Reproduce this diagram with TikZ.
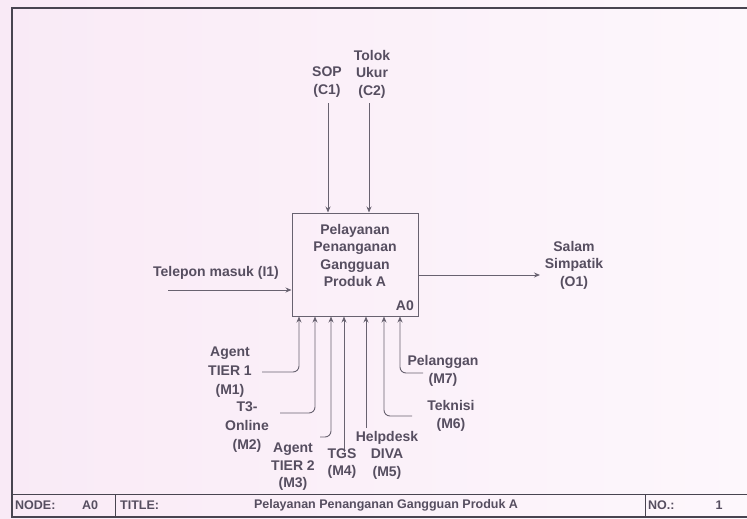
\documentclass[tikz,border=0pt]{standalone}
\usepackage{fontspec}
\setmainfont{Liberation Sans}
\usetikzlibrary{arrows.meta}
\definecolor{bgpink}{RGB}{249,234,246}
\definecolor{bgwhite}{RGB}{253,247,252}
\definecolor{ink}{RGB}{86,78,96}
\definecolor{wire}{RGB}{104,98,112}
\definecolor{framec}{RGB}{72,68,80}
\begin{document}
\begin{tikzpicture}[x=1pt,y=-1pt,
  lbl/.style={font=\fontsize{14}{17.5}\selectfont\bfseries, text=ink, align=center, inner sep=0pt},
  lblwide/.style={lbl, font=\fontsize{14}{19}\selectfont\bfseries},
  barlbl/.style={font=\fontsize{12.5}{15}\selectfont\bfseries, text=ink, inner sep=0pt},
  wirearrow/.style={draw=wire, line width=0.9pt, -{Stealth[length=6pt,width=5pt]}},
  mech/.style={wirearrow, rounded corners=6pt}]
\useasboundingbox (0,0) rectangle (747,519);
\clip (0,0) rectangle (747,519);
\shade[left color=bgpink, right color=bgwhite] (0,0) rectangle (747,519);
% frame
\draw[framec, line width=2.4pt] (760,8) -- (12,8) -- (12,517) -- (760,517);
\draw[framec, line width=0.9pt] (12,494) -- (760,494);
\draw[framec, line width=0.9pt] (115,494) -- (115,517);
\draw[framec, line width=0.9pt] (645,494) -- (645,517);
% title bar
\node[barlbl, anchor=west] (nodelbl) at (15,505) {NODE:};
\node[barlbl, anchor=west] (nodeval) at (82,505) {A0};
\node[barlbl, anchor=west] (titlelbl) at (120,505) {TITLE:};
\node[barlbl] (titleval) at (386,505) {Pelayanan Penanganan Gangguan Produk A};
\node[barlbl, anchor=west] (nolbl) at (648,505) {NO.:};
\node[barlbl] (noval) at (719,505) {1};
% activity box
\node[draw=wire, line width=1pt, minimum width=126pt, minimum height=103pt, inner sep=0pt] (box) at (355,264.5) {};
\node[lbl] (boxtxt) at (355,255.5) {Pelayanan\\Penanganan\\Gangguan\\Produk A};
\node[lbl, anchor=east] (a0) at (414,306) {A0};
% controls
\coordinate (c1) at (328,103);
\coordinate (c2) at (369,103);
\draw[wirearrow] (c1) -- (c1 |- box.north);
\draw[wirearrow] (c2) -- (c2 |- box.north);
\node[lbl] (c1l) at (327,82) {SOP\\(C1)};
\node[lbl] (c2l) at (372,74) {Tolok\\Ukur\\(C2)};
% input
\coordinate (i1) at (168,290);
\draw[wirearrow] (i1) -- (i1 -| box.west);
\node[lbl] (i1l) at (216,273) {Telepon masuk (I1)};
% output
\coordinate (o1) at (540,275);
\draw[wirearrow] (box.east |- o1) -- (o1);
\node[lbl] (o1l) at (574,265) {Salam\\Simpatik\\(O1)};
% mechanisms
\coordinate (m1e) at (262,372);  \coordinate (m1x) at (299,0);
\coordinate (m2e) at (280,413);  \coordinate (m2x) at (315,0);
\coordinate (m3e) at (320,437);  \coordinate (m3x) at (331,0);
\coordinate (m4e) at (344,452);
\coordinate (m5e) at (366,428);
\coordinate (m6e) at (412,416);  \coordinate (m6x) at (384,0);
\coordinate (m7e) at (423,373);  \coordinate (m7x) at (400,0);
\draw[mech] (m1e) -| (m1x |- box.south);
\draw[mech] (m2e) -| (m2x |- box.south);
\draw[mech] (m3e) -| (m3x |- box.south);
\draw[wirearrow] (m4e) -- (m4e |- box.south);
\draw[wirearrow] (m5e) -- (m5e |- box.south);
\draw[mech] (m6e) -| (m6x |- box.south);
\draw[mech] (m7e) -| (m7x |- box.south);
\node[lblwide] (m1l) at (230,372) {Agent\\TIER 1\\(M1)};
\node[lblwide] (m2l) at (247,427) {T3-\\Online\\(M2)};
\node[lbl] (m3l) at (293,467) {Agent\\TIER 2\\(M3)};
\node[lbl] (m4l) at (342,463.5) {TGS\\(M4)};
\node[lbl] (m5l) at (387,455) {Helpdesk\\DIVA\\(M5)};
\node[lbl] (m6l) at (451,416) {Teknisi\\(M6)};
\node[lbl] (m7l) at (443,371) {Pelanggan\\(M7)};
\end{tikzpicture}
\end{document}
